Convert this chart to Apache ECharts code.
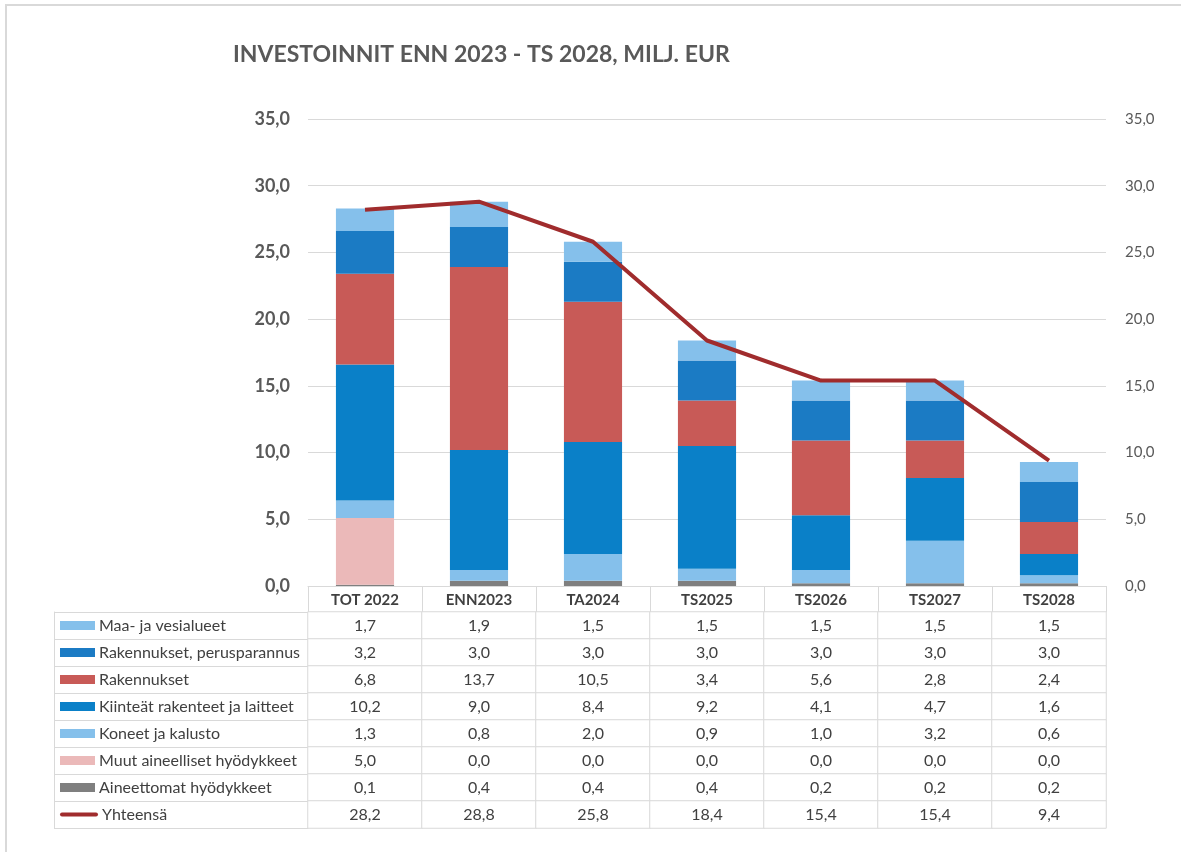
<!DOCTYPE html>
<html>
<head>
<meta charset="utf-8">
<script src="https://cdn.jsdelivr.net/npm/echarts@6/dist/echarts.min.js"></script>
<style>
html,body{margin:0;padding:0;background:#fff;}
#chart{width:1181px;height:852px;}
</style>
</head>
<body>
<div id="chart"></div>
<script>
const categories = ['TOT 2022', 'ENN2023', 'TA2024', 'TS2025', 'TS2026', 'TS2027', 'TS2028'];
const maaVesialueet = [1.7, 1.9, 1.5, 1.5, 1.5, 1.5, 1.5];
const rakPerusparannus = [3.2, 3.0, 3.0, 3.0, 3.0, 3.0, 3.0];
const rakennukset = [6.8, 13.7, 10.5, 3.4, 5.6, 2.8, 2.4];
const kiinteat = [10.2, 9.0, 8.4, 9.2, 4.1, 4.7, 1.6];
const koneet = [1.3, 0.8, 2.0, 0.9, 1.0, 3.2, 0.6];
const muutAineelliset = [5.0, 0.0, 0.0, 0.0, 0.0, 0.0, 0.0];
const aineettomat = [0.1, 0.4, 0.4, 0.4, 0.2, 0.2, 0.2];
const yhteensa = [28.2, 28.8, 25.8, 18.4, 15.4, 15.4, 9.4];
const yTicks = [0, 5, 10, 15, 20, 25, 30, 35];

const names = ['Maa- ja vesialueet', 'Rakennukset, perusparannus', 'Rakennukset',
  'Kiinteät rakenteet ja laitteet', 'Koneet ja kalusto', 'Muut aineelliset hyödykkeet',
  'Aineettomat hyödykkeet', 'Yhteensä'];
const tableValues = [maaVesialueet, rakPerusparannus, rakennukset, kiinteat, koneet, muutAineelliset, aineettomat, yhteensa];
const colors = ['#85C0EB', '#1B7BC4', '#C85A57', '#0A80C8', '#85C0EB', '#EBB9B9', '#7F7F7F', '#A02C2D'];

const fmt = v => Number(v).toFixed(1).replace('.', ',');
const FONT = 'Lato, "Open Sans", sans-serif';
const GRID_LINE = '#d9d9d9';

// stacked bar series, bottom to top
const stackOrder = [6, 5, 4, 3, 2, 1, 0];
const barSeries = stackOrder.map(i => ({
  name: names[i],
  type: 'bar',
  stack: 'total',
  xAxisIndex: 0,
  yAxisIndex: 0,
  barWidth: '51%',
  itemStyle: { color: colors[i] },
  data: tableValues[i]
}));

const heatData = [];
tableValues.forEach((arr, r) => arr.forEach((v, c) => heatData.push([c, r, v])));

const rich = { n: { fontSize: 16, color: '#404040', fontFamily: FONT, padding: [0, 0, 0, 4] } };
colors.forEach((c, i) => {
  rich['s' + i] = i === 7
    ? { backgroundColor: c, width: 38, height: 4, borderRadius: 2 }
    : { backgroundColor: c, width: 35, height: 9 };
});

const option = {
  animation: false,
  textStyle: { fontFamily: FONT },
  title: {
    text: 'INVESTOINNIT ENN 2023 - TS 2028, MILJ. EUR',
    left: 228, top: 38,
    textStyle: { fontFamily: FONT, fontSize: 23, fontWeight: 'bold', color: '#595959' }
  },
  graphic: [{
    type: 'rect', shape: { x: 6, y: 5, width: 1200, height: 900 },
    style: { fill: 'none', stroke: '#d9d9d9', lineWidth: 2 }, silent: true
  }],
  grid: [
    { left: 308, right: 75, top: 119, bottom: 266 },
    { left: 308, right: 75, top: 612, height: 216 }
  ],
  xAxis: [
    {
      type: 'category', gridIndex: 0, data: categories,
      axisLine: { lineStyle: { color: GRID_LINE } },
      axisTick: { show: true, length: 26, interval: 0, alignWithLabel: false, lineStyle: { color: GRID_LINE } },
      axisLabel: { fontSize: 15, fontWeight: 'bold', color: '#404040', margin: 7, fontFamily: FONT }
    },
    {
      type: 'category', gridIndex: 1, data: categories, show: false
    }
  ],
  yAxis: [
    {
      type: 'value', gridIndex: 0, min: 0, max: 35, interval: 5, position: 'left',
      axisLine: { show: false }, axisTick: { show: false },
      splitLine: { lineStyle: { color: GRID_LINE } },
      axisLabel: { fontSize: 18, fontWeight: 'bold', color: '#595959', margin: 18, formatter: fmt, fontFamily: FONT }
    },
    {
      type: 'value', gridIndex: 0, min: 0, max: 35, interval: 5, position: 'right',
      axisLine: { show: false }, axisTick: { show: false }, splitLine: { show: false },
      axisLabel: { fontSize: 15, color: '#595959', margin: 19, formatter: fmt, fontFamily: FONT }
    },
    {
      type: 'category', gridIndex: 1, data: names, inverse: true, position: 'left',
      axisLine: { show: true, lineStyle: { color: GRID_LINE } },
      axisTick: { show: true, length: 254, interval: 0, alignWithLabel: false, lineStyle: { color: GRID_LINE } },
      axisLabel: {
        align: 'left', margin: 248, interval: 0,
        formatter: (v, i) => '{s' + i + '|}{n|' + v + '}',
        rich: rich
      }
    },
    {
      type: 'category', gridIndex: 1, data: names, inverse: true, position: 'left', offset: 254,
      axisLine: { show: true, lineStyle: { color: GRID_LINE } },
      axisTick: { show: false }, axisLabel: { show: false }
    }
  ],
  visualMap: {
    show: false, type: 'continuous', seriesIndex: 8, min: 0, max: 40,
    inRange: { color: ['#ffffff', '#ffffff'] }
  },
  series: [
    ...barSeries,
    {
      name: names[7], type: 'line', xAxisIndex: 0, yAxisIndex: 0,
      data: yhteensa, symbol: 'none', z: 5,
      lineStyle: { color: colors[7], width: 4 }
    },
    {
      type: 'heatmap', xAxisIndex: 1, yAxisIndex: 2, data: heatData,
      itemStyle: { color: '#ffffff', borderColor: GRID_LINE, borderWidth: 1 },
      label: {
        show: true, fontSize: 16, color: '#404040', fontFamily: FONT,
        formatter: p => fmt(p.value[2])
      },
      emphasis: { disabled: true }
    }
  ]
};

const chart = echarts.init(document.getElementById('chart'), null, { renderer: 'canvas' });
chart.setOption(option);
</script>
</body>
</html>
